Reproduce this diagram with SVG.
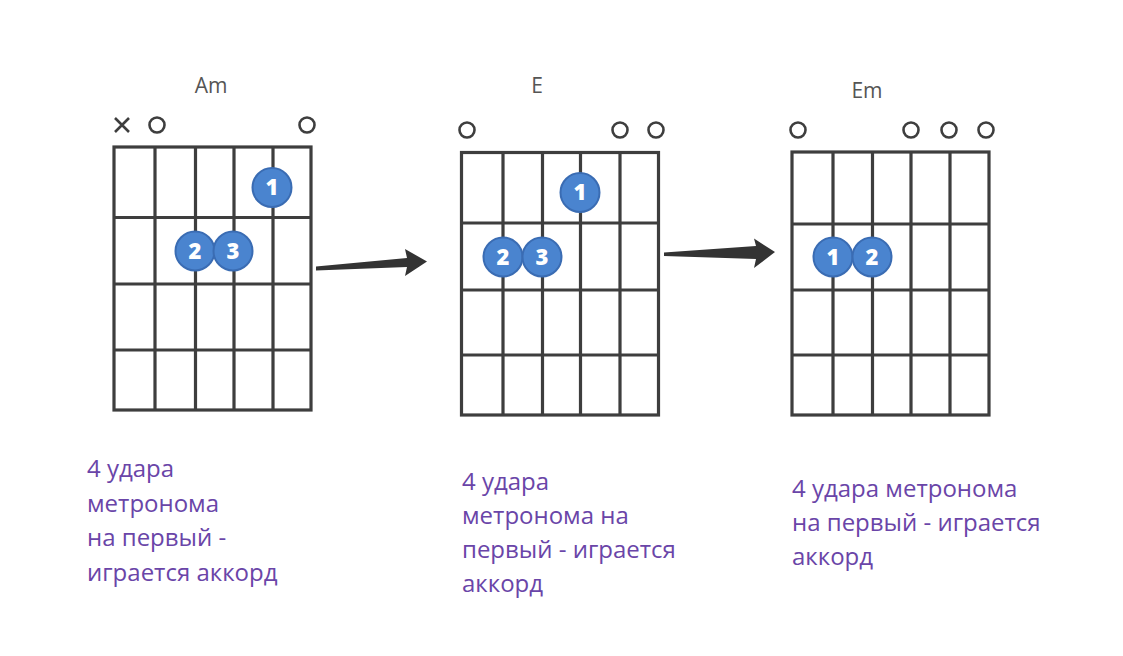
<svg xmlns="http://www.w3.org/2000/svg" width="1123" height="656" viewBox="0 0 1123 656">
<style>
.grid{fill:none;stroke:#3e3e3e;stroke-width:3.2}
.open{fill:none;stroke:#3e3e3e;stroke-width:2.6}
.dot{fill:#4a84cf;stroke:#3a6cb3;stroke-width:2}
.num{fill:#fff;font-family:"Open Sans",sans-serif;font-weight:800;font-size:22px;text-anchor:middle}
.name{fill:#555;font-family:"Open Sans",sans-serif;font-size:21px;text-anchor:middle}
.desc{fill:#6a45a8;font-family:"Open Sans",sans-serif;font-size:24px}
.arrow{fill:#333}
</style>
<rect width="1123" height="656" fill="#fff"/>
<g id="chord-am">
<text class="name" x="211" y="93">Am</text>
<path class="open" d="M115 118 L129 132 M129 118 L115 132"/>
<circle class="open" cx="157" cy="125" r="7.5"/>
<circle class="open" cx="307" cy="125" r="7.5"/>
<rect class="grid" x="114" y="147" width="197" height="263"/>
<path class="grid" d="M155 147V410M195.5 147V410M234 147V410M273 147V410M114 217.5H311M114 284H311M114 350H311"/>
<circle class="dot" cx="272" cy="187.5" r="19.5"/><text class="num" x="272" y="195">1</text>
<circle class="dot" cx="195" cy="251" r="19.5"/><text class="num" x="195" y="258.5">2</text>
<circle class="dot" cx="233" cy="251" r="19.5"/><text class="num" x="233" y="258.5">3</text>
</g>
<g id="chord-e">
<text class="name" x="537" y="93">E</text>
<circle class="open" cx="467" cy="130" r="7.5"/>
<circle class="open" cx="620" cy="130" r="7.5"/>
<circle class="open" cx="656" cy="130" r="7.5"/>
<rect class="grid" x="461.5" y="152.5" width="197" height="262.5"/>
<path class="grid" d="M503 152.5V415M542.5 152.5V415M580.5 152.5V415M620 152.5V415M461.5 223H658.5M461.5 290H658.5M461.5 355H658.5"/>
<circle class="dot" cx="580" cy="192.5" r="19.5"/><text class="num" x="580" y="200">1</text>
<circle class="dot" cx="503" cy="257" r="19.5"/><text class="num" x="503" y="264.5">2</text>
<circle class="dot" cx="542" cy="257" r="19.5"/><text class="num" x="542" y="264.5">3</text>
</g>
<g id="chord-em">
<text class="name" x="867" y="98">Em</text>
<circle class="open" cx="798" cy="130" r="7.5"/>
<circle class="open" cx="911" cy="130" r="7.5"/>
<circle class="open" cx="949" cy="130" r="7.5"/>
<circle class="open" cx="986" cy="130" r="7.5"/>
<rect class="grid" x="792" y="152" width="197" height="263"/>
<path class="grid" d="M833 152V415M872.5 152V415M911 152V415M950 152V415M792 224H989M792 290H989M792 355H989"/>
<circle class="dot" cx="833" cy="257" r="19.5"/><text class="num" x="833" y="264.5">1</text>
<circle class="dot" cx="872" cy="257" r="19.5"/><text class="num" x="872" y="264.5">2</text>
</g>
<g id="connectors">
<polygon class="arrow" points="316,266.5 407,258 405,249 427,261.5 405,276 407,267 316,270.5"/>
<polygon class="arrow" points="664,252.5 756,246 754,238.5 775,252 754,268 756,259 664,256"/>
</g>
<g id="text-1">
<text class="desc"><tspan x="87" y="477">4 удара</tspan><tspan x="87" y="511.5">метронома</tspan><tspan x="87" y="546">на первый -</tspan><tspan x="87" y="580.5">играется аккорд</tspan></text>
</g>
<g id="text-2">
<text class="desc"><tspan x="462" y="490">4 удара</tspan><tspan x="462" y="524">метронома на</tspan><tspan x="462" y="558">первый - играется</tspan><tspan x="462" y="592">аккорд</tspan></text>
</g>
<g id="text-3">
<text class="desc"><tspan x="792" y="497">4 удара метронома</tspan><tspan x="792" y="531">на первый - играется</tspan><tspan x="792" y="565">аккорд</tspan></text>
</g>
</svg>
